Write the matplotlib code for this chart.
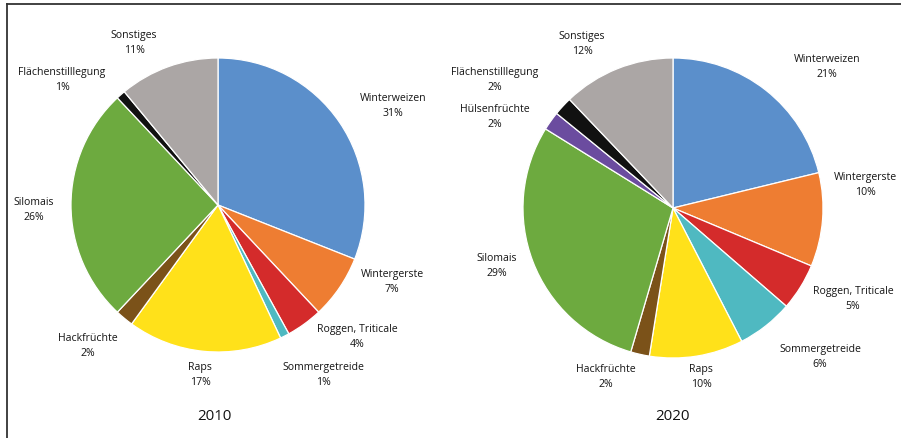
import matplotlib
matplotlib.use("Agg")
import matplotlib.pyplot as plt
from matplotlib.lines import Line2D

# ---- data ----
categories_2010 = ["Winterweizen", "Wintergerste", "Roggen, Triticale", "Sommergetreide",
                   "Raps", "Hackfrüchte", "Silomais", "Flächenstilllegung", "Sonstiges"]
values_2010 = [31, 7, 4, 1, 17, 2, 26, 1, 11]

categories_2020 = ["Winterweizen", "Wintergerste", "Roggen, Triticale", "Sommergetreide",
                   "Raps", "Hackfrüchte", "Silomais", "Hülsenfrüchte", "Flächenstilllegung", "Sonstiges"]
values_2020 = [21, 10, 5, 6, 10, 2, 29, 2, 2, 12]

years = ["2010", "2020"]

# ---- styles ----
colors = {
    "Winterweizen": "#5B8FCB",
    "Wintergerste": "#EE7D32",
    "Roggen, Triticale": "#D42B2B",
    "Sommergetreide": "#4FB9C1",
    "Raps": "#FFE11A",
    "Hackfrüchte": "#7B5219",
    "Silomais": "#6DAA3F",
    "Hülsenfrüchte": "#6B4C9F",
    "Flächenstilllegung": "#111111",
    "Sonstiges": "#ABA6A5",
}

W, H = 901, 438
FONT = "Open Sans"

# label anchor positions in pixels (x, y from top)
label_pos_2010 = {
    "Sonstiges": (134, 43), "Flächenstilllegung": (62, 80), "Winterweizen": (393, 106),
    "Silomais": (34, 210), "Wintergerste": (392, 282), "Roggen, Triticale": (357, 337),
    "Sommergetreide": (323, 375), "Raps": (200, 375), "Hackfrüchte": (88, 346),
}
label_pos_2020 = {
    "Sonstiges": (582, 44), "Flächenstilllegung": (495, 80), "Hülsenfrüchte": (495, 117),
    "Winterweizen": (827, 67), "Wintergerste": (865, 185), "Silomais": (497, 266),
    "Roggen, Triticale": (853, 299), "Sommergetreide": (820, 357), "Hackfrüchte": (606, 377),
    "Raps": (701, 377),
}
pie_geom = [((218, 205), 147), ((673, 208), 150)]
year_pos = [(214, 417), (672, 417)]

fig = plt.figure(figsize=(W / 100, H / 100), dpi=100)
fig.patch.set_facecolor("white")

datasets = [(categories_2010, values_2010, label_pos_2010),
            (categories_2020, values_2020, label_pos_2020)]

for (cats, vals, lpos), ((cx, cy), r), (yx, yy), yr in zip(datasets, pie_geom, year_pos, years):
    ax = fig.add_axes([(cx - r) / W, (H - cy - r) / H, 2 * r / W, 2 * r / H])
    ax.pie(vals, colors=[colors[c] for c in cats], startangle=90, counterclock=False,
           radius=1, wedgeprops=dict(edgecolor="white", linewidth=0.9))
    ax.set_xlim(-1, 1)
    ax.set_ylim(-1, 1)
    ax.set_aspect("equal")
    ax.axis("off")
    for c, v in zip(cats, vals):
        px, py = lpos[c]
        ax.text((px - cx) / r, (cy - py) / r, f"{c}\n{v:.0f}%", ha="center", va="center",
                multialignment="center", fontsize=7.6, family=FONT, color="#151515",
                linespacing=1.45, clip_on=False)
    fig.text(yx / W, 1 - yy / H, yr, ha="center", va="center", fontsize=10.8,
             family=FONT, color="#111111")

# frame lines (top and left)
fig.add_artist(Line2D([6.5 / W, 1.0], [1 - 3.5 / H, 1 - 3.5 / H], transform=fig.transFigure,
                      color="#333333", linewidth=1.3))
fig.add_artist(Line2D([7 / W, 7 / W], [0, 1 - 3.5 / H], transform=fig.transFigure,
                      color="#333333", linewidth=1.3))

fig.savefig("out.png", dpi=100, facecolor="white")
